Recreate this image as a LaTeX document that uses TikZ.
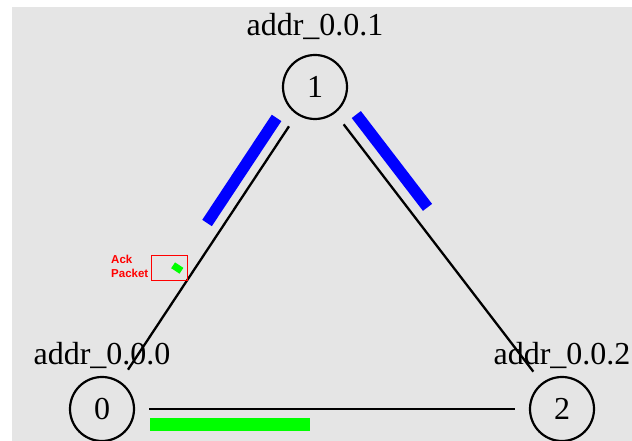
\documentclass[tikz,border=0pt]{standalone}
\usepackage{fontspec}
\setmainfont{Liberation Serif}
\setsansfont{Liberation Sans}
\usepackage{tikz}
\usetikzlibrary{positioning, calc}
\definecolor{Canvas}  {HTML}{E5E5E5}
\definecolor{PktBlue} {HTML}{0000FF}
\definecolor{PktGreen}{HTML}{00FF00}
\definecolor{AckRed}  {HTML}{FF0000}
\tikzset{
  nd/.style={draw, circle, line width=2.2pt, minimum size=64pt, inner sep=0pt,
             font=\fontsize{32}{32}\selectfont},
  addr/.style={inner sep=0pt, anchor=base, font=\fontsize{32}{32}\selectfont},
  lnk/.style={line width=2.3pt, shorten >=14pt, shorten <=14pt}
}
\begin{document}
\begin{tikzpicture}[x=1pt,y=1pt,pkt/.style={line width=11.5pt}]
  \useasboundingbox (0,0) rectangle (632,441);
  \fill[Canvas] (12,0) rectangle (632,434);
  \node[nd] (n1) at (315,354) {1};
  \node[nd] (n0) at (102,32)  {0};
  \node[nd] (n2) at (562,32)  {2};
  \node[addr] (l1) at ($(n1)+(0,51)$) {addr\_0.0.1};
  \node[addr] (l0) at ($(n0)+(0,44)$) {addr\_0.0.0};
  \node[addr] (l2) at ($(n2)+(0,44)$) {addr\_0.0.2};
  \draw[lnk] (n0) -- (n1); \draw[lnk] (n1) -- (n2); \draw[lnk] (n0) -- (n2);
  \coordinate (b1) at ($(n1)!47pt!(n0)$);  \coordinate (b2) at ($(n1)!173pt!(n0)$);
  \coordinate (c1) at ($(n1)!47pt!(n2)$);  \coordinate (c2) at ($(n1)!164pt!(n2)$);
  \coordinate (g1) at ($(n0)!48pt!(n2)$);  \coordinate (g2) at ($(n0)!208pt!(n2)$);
  \coordinate (k1) at ($(n1)!223.5pt!(n0)$); \coordinate (k2) at ($(n1)!230.5pt!(n0)$);
  \draw[pkt,PktBlue]  ($(b1)!15pt!-90:(n0)$) -- ($(b2)!15pt!90:(n1)$);
  \draw[pkt,PktBlue]  ($(c1)!16pt!90:(n2)$)  -- ($(c2)!16pt!-90:(n1)$);
  \draw[pkt,PktGreen,line width=13pt] ($(g1)!15.5pt!-90:(n2)$) -- ($(g2)!15.5pt!90:(n0)$);
  \draw[PktGreen,line width=10pt] ($(k1)!15pt!-90:(n0)$) -- ($(k2)!15pt!90:(n1)$);
  \node[draw=AckRed,line width=0.8pt,minimum width=36pt,minimum height=25pt,inner sep=0pt]
    (ackbox) at (169,173.5) {};
  \node[anchor=north west,align=left,inner sep=0pt,text=AckRed,
    font=\sffamily\bfseries\fontsize{11.5}{14}\selectfont] (ackl) at (111,186) {Ack\\Packet};
\end{tikzpicture}
\end{document}
